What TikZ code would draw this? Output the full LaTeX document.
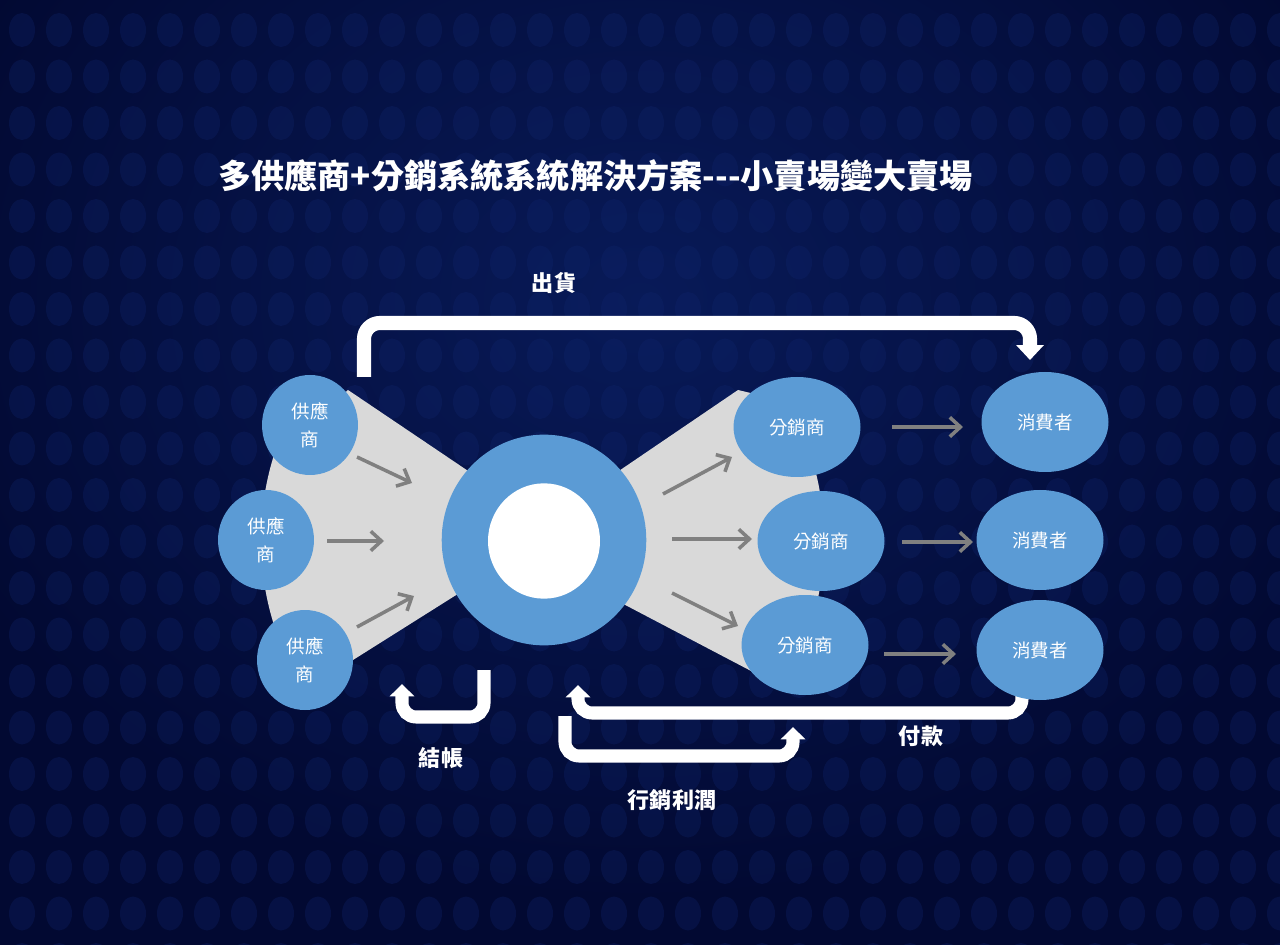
\documentclass[tikz,border=0pt]{standalone}
\usepackage{fontspec}
\setmainfont{Noto Sans CJK TC}
\usetikzlibrary{arrows.meta,shapes.geometric}
\definecolor{bg}{RGB}{2,9,50}
\definecolor{bgglow}{RGB}{8,26,88}
\definecolor{dotc}{RGB}{16,38,110}
\definecolor{nodeblue}{RGB}{91,155,213}
\definecolor{fangrey}{RGB}{217,217,217}
\definecolor{garrow}{RGB}{128,128,128}
\begin{document}
\begin{tikzpicture}[x=0.567pt,y=-0.567pt,
  sup/.style={ellipse,fill=nodeblue,minimum width=54.4pt,minimum height=56.7pt,inner sep=0pt,text=white,font=\fontsize{10.5pt}{16pt}\selectfont,align=center},
  dist/.style={sup,minimum width=72pt},
  flowtop/.style={draw=white,line width=8pt,rounded corners=9pt,-{Triangle[length=8.5pt,width=15.3pt]}},
  flowbot/.style={draw=white,line width=7.4pt,rounded corners=8pt,-{Triangle[length=7pt,width=13.6pt]}},
  garr/.style={draw=garrow,line width=2pt,-{Straight Barb[length=6pt,width=11pt]}},
  lbl/.style={text=white,font=\bfseries\fontsize{12.5pt}{14pt}\selectfont},
  titlestyle/.style={text=white,font=\bfseries\fontsize{18.8pt}{21pt}\selectfont,anchor=west,inner sep=0pt}
]
\useasboundingbox (0,0) rectangle (1280,945);
% background
\begin{scope}
  \clip (0,0) rectangle (1280,945);
  \fill[bg] (0,0) rectangle (1280,945);
  \shade[inner color=bgglow,outer color=bg] (640,300) ellipse [x radius=760,y radius=600];
  \foreach \i in {0,...,34}{
    \foreach \j in {0,...,20}{
      \fill[dotc,opacity=0.3] ({22+37*\i},{30+46.5*\j}) ellipse [x radius=13,y radius=17];
    }
  }
\end{scope}

% title
\node[titlestyle] (title) at (218,176) {多供應商+分銷系統系統解決方案-{}-{}-小賣場變大賣場};

% fans
\begin{scope}
  \clip (348,390) -- (480,479) -- (480,580) -- (353,660) -- (305,700) -- (150,700) -- (150,425) -- (310,425) -- cycle;
  \fill[fangrey] (544,540) circle [radius=283];
\end{scope}
\begin{scope}
  \clip (738,390) -- (610,477) -- (610,597) -- (753,672) -- (805,645) -- (900,645) -- (900,400) -- (780,400) -- cycle;
  \fill[fangrey] (544,540) circle [radius=280];
\end{scope}

% white flow arrows (behind nodes)
\coordinate (shipA) at (364,377);
\coordinate (shipB) at (364,323);
\coordinate (shipC) at (1030,323);
\coordinate (shipD) at (1030,360);
\draw[flowtop] (shipA) -- (shipB) -- (shipC) -- (shipD);

\coordinate (payA) at (1022,690);
\coordinate (payB) at (1022,713);
\coordinate (payC) at (578,713);
\coordinate (payD) at (578,685);
\draw[flowbot] (payA) -- (payB) -- (payC) -- (payD);

\coordinate (settA) at (484,670);
\coordinate (settB) at (484,717);
\coordinate (settC) at (402,717);
\coordinate (settD) at (402,684);
\draw[flowbot] (settA) -- (settB) -- (settC) -- (settD);

\coordinate (mktA) at (565,716);
\coordinate (mktB) at (565,756);
\coordinate (mktC) at (793,756);
\coordinate (mktD) at (793,727);
\draw[flowbot] (mktA) -- (mktB) -- (mktC) -- (mktD);

% hub
\node[circle,fill=nodeblue,minimum width=116pt,inner sep=0pt,yscale=1.03] (hub) at (544,540) {};
\node[circle,fill=white,minimum width=63.5pt,inner sep=0pt,yscale=1.03] (hubin) at (544,541) {};

% suppliers
\node[sup] (s1) at (310,425) {供應\\商};
\node[sup] (s2) at (266,540) {供應\\商};
\node[sup] (s3) at (305,660) {供應\\商};

% distributors
\node[dist] (d1) at (797,427) {分銷商};
\node[dist] (d2) at (821,541) {分銷商};
\node[dist] (d3) at (805,645) {分銷商};

% consumers
\node[dist] (c1) at (1045,422) {消費者};
\node[dist] (c2) at (1040,540) {消費者};
\node[dist] (c3) at (1040,650) {消費者};

% grey arrows
\coordinate (g1a) at (357,457); \coordinate (g1b) at (412,483);
\coordinate (g2a) at (327,541); \coordinate (g2b) at (384,541);
\coordinate (g3a) at (357,627); \coordinate (g3b) at (414,596);
\coordinate (g4a) at (663,494); \coordinate (g4b) at (732,457);
\coordinate (g5a) at (672,539); \coordinate (g5b) at (752,539);
\coordinate (g6a) at (672,593); \coordinate (g6b) at (738,626);
\coordinate (g7a) at (892,427); \coordinate (g7b) at (963,427);
\coordinate (g8a) at (902,542); \coordinate (g8b) at (973,542);
\coordinate (g9a) at (884,654); \coordinate (g9b) at (956,654);
\foreach \k in {1,...,9}{\draw[garr] (g\k a) -- (g\k b);}

% labels
\node[lbl] (lship) at (554,283) {出貨};
\node[lbl] (lsett) at (441,758) {結帳};
\node[lbl] (lmkt) at (672,800) {行銷利潤};
\node[lbl] (lpay) at (921,736) {付款};
\end{tikzpicture}
\end{document}
